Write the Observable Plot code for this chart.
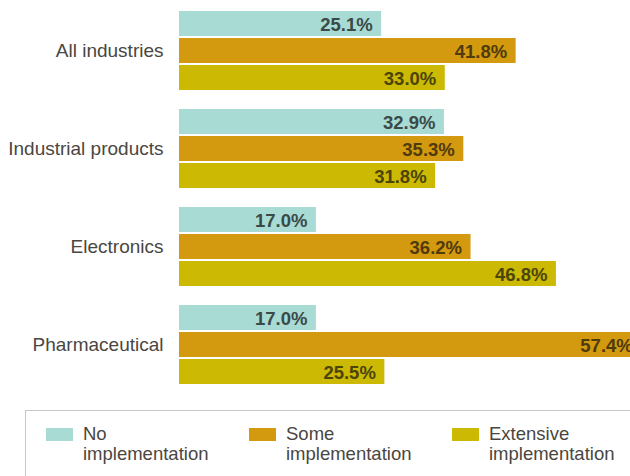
<!DOCTYPE html>
<html><head><meta charset="utf-8">
<script src="https://cdn.jsdelivr.net/npm/d3@7"></script>
<script src="https://cdn.jsdelivr.net/npm/@observablehq/plot@0.6"></script>
<style>
html,body{margin:0;padding:0;background:#fff}
body{width:630px;height:476px;overflow:hidden;position:relative;font-family:"Liberation Sans",Arial,Helvetica,sans-serif}
#chart{position:absolute;left:0;top:0;width:630px;overflow:hidden}
.legend{position:absolute;left:25px;top:410px;width:720px;height:120px;border:1px solid #c6c6c6;box-sizing:border-box}
.sw{position:absolute;top:17px;width:27px;height:13px}
.lt{position:absolute;top:12.6px;font-size:18.5px;line-height:20.5px;color:#4a463f;white-space:nowrap}
</style>
</head><body>
<div id="chart"></div>
<div class="legend" id="legend"></div>
<script>
const categories = ["All industries", "Industrial products", "Electronics", "Pharmaceutical"];
const series = ["No implementation", "Some implementation", "Extensive implementation"];
const legendLines = [["No", "implementation"], ["Some", "implementation"], ["Extensive", "implementation"]];
const noImpl = [25.1, 32.9, 17.0, 17.0];
const someImpl = [41.8, 35.3, 36.2, 57.4];
const extImpl = [33.0, 31.8, 46.8, 25.5];
const colors = ["#a9dbd5", "#d3990f", "#cbb903"];
const labelColors = ["#3b4a48", "#4f3b0c", "#4b4508"];

const values = [noImpl, someImpl, extImpl];
const data = [];
categories.forEach((c, i) => series.forEach((s, j) => data.push({cat: c, series: s, value: values[j][i]})));

const chart = Plot.plot({
  width: 630,
  height: 395,
  marginLeft: 179,
  marginRight: 0,
  marginTop: 10,
  marginBottom: 10,
  style: {fontFamily: '"Liberation Sans", Arial, sans-serif', fontSize: "19px", color: "#4a4641", background: "#fff", overflow: "hidden"},
  x: {domain: [0, 56], range: [179, 630], axis: null},
  y: {domain: series, axis: null, paddingInner: 0.08, paddingOuter: 0},
  fy: {domain: categories, paddingInner: 0.18, paddingOuter: 0, label: null, tickSize: 0, tickPadding: 16, axis: "left"},
  color: {domain: series, range: colors},
  marks: [
    Plot.barX(data, {fy: "cat", y: "series", x: "value", fill: "series"}),
    ...series.map((s, j) => Plot.text(data.filter(d => d.series === s), {
      fy: "cat", y: "series", x: "value",
      text: d => d.value.toFixed(1) + "%",
      textAnchor: "end", dx: -9, dy: 1,
      fill: labelColors[j], fontWeight: "bold", fontSize: 18.5
    }))
  ]
});
document.getElementById("chart").appendChild(chart);

const legend = document.getElementById("legend");
const swX = [20, 223, 426];
series.forEach((s, j) => {
  const sw = document.createElement("div");
  sw.className = "sw";
  sw.style.left = swX[j] + "px";
  sw.style.background = colors[j];
  legend.appendChild(sw);
  const t = document.createElement("div");
  t.className = "lt";
  t.style.left = (swX[j] + 37) + "px";
  t.innerHTML = legendLines[j].join("<br>");
  legend.appendChild(t);
});
</script>
</body></html>
